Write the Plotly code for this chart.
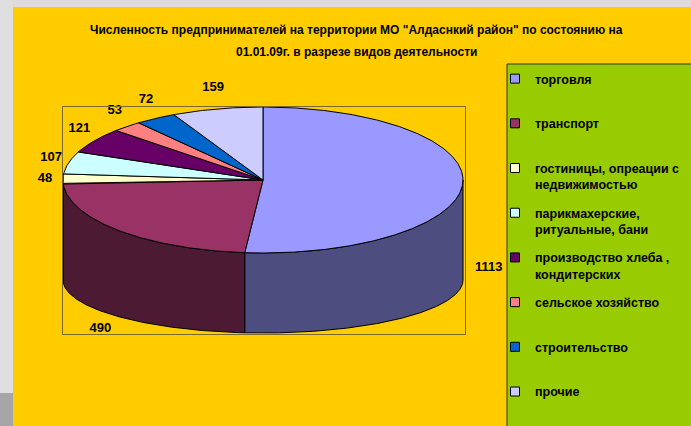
import numpy as np
import plotly.graph_objects as go

# ---- data ----
categories = [
    "торговля",
    "транспорт",
    "гостиницы, опреации с<br>недвижимостью",
    "парикмахерские,<br>ритуальные, бани",
    "производство хлеба ,<br>кондитерских",
    "сельское хозяйство",
    "строительство",
    "прочие",
]
values = [1113, 490, 48, 107, 121, 53, 72, 159]
top_colors = ["#9999FF", "#993366", "#FFFFCC", "#CCFFFF", "#660066", "#FF8080", "#0066CC", "#CCCCFF"]
side_colors = ["#4D4D80", "#4D1A33", "#808066", "#668080", "#330033", "#804040", "#003366", "#666680"]
title_lines = [
    'Численность предпринимателей на территории МО "Алдаснкий район" по состоянию на',
    "01.01.09г. в разрезе видов деятельности",
]

FONT = "Liberation Sans, Arial, sans-serif"
W, H = 691, 426

# 3D pie geometry (style constants, in pixels)
CX, CY = 263, 180              # centre of top face in the page
RX, RY = 200.0, 73.0           # top ellipse radii
BOT_CY, BOT_RY = -100.0, 53.0  # bottom ellipse centre / radius

vals = np.array(values, dtype=float)
total = vals.sum()
a1 = 360.0 * np.cumsum(vals) / total
a0 = a1 - 360.0 * vals / total

fig = go.Figure()

def arc(t_deg, cy, ry):
    t = np.radians(t_deg)
    return RX * np.sin(t), cy + ry * np.cos(t)

# side walls (front half only)
for i in range(len(values)):
    s, e = max(a0[i], 90.0), min(a1[i], 270.0)
    if s < e:
        t = np.linspace(s, e, max(3, int((e - s) * 2)))
        xt, yt = arc(t, 0.0, RY)
        xb, yb = arc(t[::-1], BOT_CY, BOT_RY)
        xs = np.concatenate([xt, xb, xt[:1]])
        ys = np.concatenate([yt, yb, yt[:1]])
        fig.add_trace(go.Scatter(x=xs, y=ys, mode="lines", fill="toself",
                                 fillcolor=side_colors[i], line=dict(color="#000000", width=1),
                                 hoverinfo="skip", showlegend=False))

# top faces
for i in range(len(values)):
    t = np.linspace(a0[i], a1[i], max(3, int((a1[i] - a0[i]) * 2)))
    xa, ya = arc(t, 0.0, RY)
    xs = np.concatenate([[0.0], xa, [0.0]])
    ys = np.concatenate([[0.0], ya, [0.0]])
    fig.add_trace(go.Scatter(x=xs, y=ys, mode="lines", fill="toself",
                             fillcolor=top_colors[i], line=dict(color="#000000", width=1),
                             hoverinfo="text", text=f"{values[i]}", showlegend=False))

# value labels (outside end, back labels above rim, front labels below the wall)
mid = np.radians((a0 + a1) / 2)
front = np.cos(mid) < 0
lx = np.where(front, 1.13, 1.09) * RX * np.sin(mid)
ly = np.where(front, BOT_CY + 1.75 * BOT_RY * np.cos(mid) + 16, 1.3 * RY * np.cos(mid))
fig.add_trace(go.Scatter(x=lx, y=ly, mode="text", text=[f"<b>{v}</b>" for v in values],
                         textfont=dict(family=FONT, size=13, color="#000000"),
                         cliponaxis=False, hoverinfo="skip", showlegend=False))

# legend entries
for i, name in enumerate(categories):
    label = name if "<br>" in name else name + "<br> "
    fig.add_trace(go.Scatter(x=[None], y=[None], mode="markers", name=f"<b>{label}</b>",
                             legendgroup=f"g{i}",
                             marker=dict(symbol="square", size=9, color=top_colors[i],
                                         line=dict(color="#000000", width=1))))

# invisible trace to hold the plot-area frame axes
fig.add_trace(go.Scatter(x=[0], y=[0], xaxis="x2", yaxis="y2", mode="markers",
                         marker=dict(opacity=0), hoverinfo="skip", showlegend=False))

# main (data) axes: 1 unit = 1 pixel
px0, px1, py0, py1 = 20, 505, 75, 350
bx0, bx1, by0, by1 = 63, 465, 107, 334
noax = dict(showgrid=False, zeroline=False, showticklabels=False, ticks="", fixedrange=True)
fig.update_layout(
    xaxis=dict(range=[px0 - CX, px1 - CX], domain=[px0 / W, px1 / W], showline=False, **noax),
    yaxis=dict(range=[CY - py1, CY - py0], domain=[1 - py1 / H, 1 - py0 / H], showline=False, **noax),
    xaxis2=dict(range=[0, 1], domain=[bx0 / W, bx1 / W], anchor="y2", showline=True, mirror=True,
                linecolor="#7A6A30", linewidth=1, **noax),
    yaxis2=dict(range=[0, 1], domain=[1 - by1 / H, 1 - by0 / H], anchor="x2", showline=True,
                mirror=True, linecolor="#7A6A30", linewidth=1, **noax),
)

shapes = [
    dict(type="rect", xref="paper", yref="paper", x0=0, x1=1, y0=1 - 7 / H, y1=1,
         fillcolor="#DCDCDC", line=dict(width=0), layer="below"),
    dict(type="rect", xref="paper", yref="paper", x0=0, x1=13 / W, y0=0, y1=1,
         fillcolor="#DEDEDE", line=dict(width=0), layer="below"),
    dict(type="rect", xref="paper", yref="paper", x0=0, x1=13 / W, y0=0, y1=33 / H,
         fillcolor="#A6A6A6", line=dict(width=0), layer="below"),
    dict(type="rect", xref="paper", yref="paper", x0=507 / W, x1=1.01, y0=-0.01, y1=1 - 64 / H,
         fillcolor="#99CC00", line=dict(color="#333333", width=1), layer="below"),
]

annotations = [
    dict(text=f"<b>{t}</b>", xref="paper", yref="paper", x=357 / W, y=1 - yy / H,
         xanchor="center", yanchor="middle", showarrow=False,
         font=dict(family=FONT, size=12, color="#000000"))
    for t, yy in zip(title_lines, [30, 52])
]

fig.update_layout(
    width=W, height=H, autosize=False,
    margin=dict(l=0, r=0, t=0, b=0),
    paper_bgcolor="#FFCC00", plot_bgcolor="rgba(0,0,0,0)",
    shapes=shapes, annotations=annotations,
    legend=dict(x=495 / W, xanchor="left", y=1 - 64 / H, yanchor="top",
                bgcolor="rgba(0,0,0,0)", borderwidth=0, valign="top", tracegroupgap=9.2,
                font=dict(family=FONT, size=12.5, color="#000000"),
                itemclick=False, itemdoubleclick=False),
    showlegend=True,
)

fig.write_html("out.html", config={"displayModeBar": False},
               post_script="document.body.style.margin='0';")
